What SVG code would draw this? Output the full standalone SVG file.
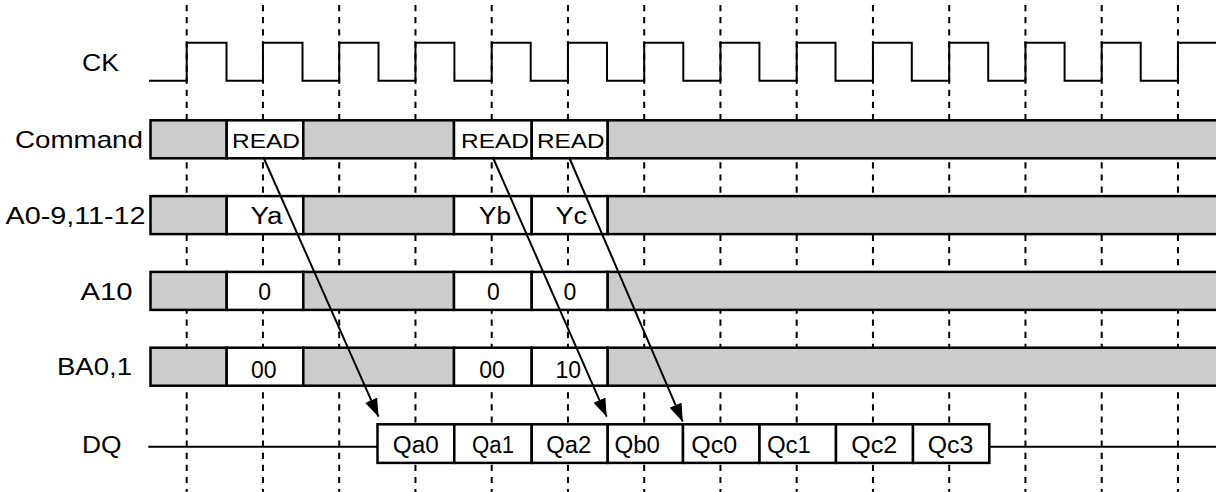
<svg xmlns="http://www.w3.org/2000/svg" width="1216" height="492" viewBox="0 0 1216 492">
<style>
.dash{stroke:#000;stroke-width:2;stroke-dasharray:6.2 5.9;fill:none}
.clk{stroke:#000;stroke-width:2;fill:none}
.ln{stroke:#000;stroke-width:2;fill:none}
.g{fill:#ccc;stroke:#000;stroke-width:2.5}
.w{fill:#fff;stroke:#000;stroke-width:2.5}
text{font-family:"Liberation Sans",Arial,sans-serif;fill:#000}
.lbl{font-size:24px}
.cell{font-size:23px}
.rd{font-size:20px}
.c{text-anchor:middle}
.arr{stroke:#000;stroke-width:2;fill:none;marker-end:url(#ah)}
</style>
<defs>
<marker id="ah" markerUnits="userSpaceOnUse" markerWidth="20" markerHeight="14" refX="18" refY="6.5" orient="auto">
<path d="M0,0 L18,6.5 L0,13 Z" fill="#000"/>
</marker>
</defs>
<rect width="1216" height="492" fill="#fff"/>
<g id="gridlines">
<path class="dash" d="M186.7 5V492M262.95 5V492M339.2 5V492M415.45 5V492M491.7 5V492M567.95 5V492M644.2 5V492M720.45 5V492M796.7 5V492M872.95 5V492M949.2 5V492M1025.45 5V492M1101.7 5V492M1177.95 5V492"/>
</g>
<g id="sig-ck">
<text class="lbl" x="82" y="71" textLength="37" lengthAdjust="spacingAndGlyphs">CK</text>
<path class="clk" d="M149 80.7H186.7V42.7H226.5V80.7H262.95V42.7H302.5V80.7H339.2V42.7H378.5V80.7H415.45V42.7H454.4V80.7H491.7V42.7H530.7V80.7H567.95V42.7H607V80.7H644.2V42.7H683.3V80.7H720.45V42.7H759.4V80.7H796.7V42.7H835.5V80.7H872.95V42.7H911.8V80.7H949.2V42.7H988.2V80.7H1025.45V42.7H1064.6V80.7H1101.7V42.7H1140.7V80.7H1177.95V42.7H1216"/>
</g>
<g id="sig-command">
<text class="lbl" x="15" y="148.3" textLength="128" lengthAdjust="spacingAndGlyphs">Command</text>
<rect class="g" x="150.5" y="120.3" width="76.2" height="38"/>
<rect class="w" x="226.7" y="120.3" width="76.6" height="38"/>
<rect class="g" x="303.3" y="120.3" width="150.7" height="38"/>
<rect class="w" x="454" y="120.3" width="77.7" height="38"/>
<rect class="w" x="531.7" y="120.3" width="76" height="38"/>
<rect class="g" x="607.7" y="120.3" width="630" height="38"/>
<text class="rd" x="232" y="148.3" textLength="68" lengthAdjust="spacingAndGlyphs">READ</text>
<text class="rd" x="461" y="148.3" textLength="68" lengthAdjust="spacingAndGlyphs">READ</text>
<text class="rd" x="537" y="148.3" textLength="67.5" lengthAdjust="spacingAndGlyphs">READ</text>
</g>
<g id="sig-addr">
<text class="lbl" x="5.5" y="224.3" textLength="140" lengthAdjust="spacingAndGlyphs">A0-9,11-12</text>
<rect class="g" x="150.5" y="196.1" width="76.2" height="38"/>
<rect class="w" x="226.7" y="196.1" width="76.6" height="38"/>
<rect class="g" x="303.3" y="196.1" width="150.7" height="38"/>
<rect class="w" x="454" y="196.1" width="77.7" height="38"/>
<rect class="w" x="531.7" y="196.1" width="76" height="38"/>
<rect class="g" x="607.7" y="196.1" width="630" height="38"/>
<text class="cell" x="250.5" y="224.3" textLength="32" lengthAdjust="spacingAndGlyphs">Ya</text>
<text class="cell" x="479" y="224.3" textLength="32" lengthAdjust="spacingAndGlyphs">Yb</text>
<text class="cell" x="555.5" y="224.3" textLength="31.5" lengthAdjust="spacingAndGlyphs">Yc</text>
</g>
<g id="sig-a10">
<text class="lbl" x="80.5" y="300" textLength="52" lengthAdjust="spacingAndGlyphs">A10</text>
<rect class="g" x="150.5" y="271.9" width="76.2" height="38"/>
<rect class="w" x="226.7" y="271.9" width="76.6" height="38"/>
<rect class="g" x="303.3" y="271.9" width="150.7" height="38"/>
<rect class="w" x="454" y="271.9" width="77.7" height="38"/>
<rect class="w" x="531.7" y="271.9" width="76" height="38"/>
<rect class="g" x="607.7" y="271.9" width="630" height="38"/>
<text class="cell c" x="264.7" y="299.5">0</text>
<text class="cell c" x="493.3" y="299.5">0</text>
<text class="cell c" x="569.9" y="299.5">0</text>
</g>
<g id="sig-ba">
<text class="lbl" x="57" y="375" textLength="75" lengthAdjust="spacingAndGlyphs">BA0,1</text>
<rect class="g" x="150.5" y="347.7" width="76.2" height="38"/>
<rect class="w" x="226.7" y="347.7" width="76.6" height="38"/>
<rect class="g" x="303.3" y="347.7" width="150.7" height="38"/>
<rect class="w" x="454" y="347.7" width="77.7" height="38"/>
<rect class="w" x="531.7" y="347.7" width="76" height="38"/>
<rect class="g" x="607.7" y="347.7" width="630" height="38"/>
<text class="cell c" x="263.8" y="378.3">00</text>
<text class="cell c" x="492" y="378.3">00</text>
<text class="cell c" x="568.3" y="378.3">10</text>
</g>
<g id="sig-dq">
<text class="lbl" x="82" y="453.3" textLength="39.5" lengthAdjust="spacingAndGlyphs">DQ</text>
<path class="ln" d="M148.3 446.7H377.5M989.3 446.7H1216"/>
<rect class="w" x="377.5" y="424.3" width="76.8" height="38.6"/>
<rect class="w" x="454.3" y="424.3" width="77.4" height="38.6"/>
<rect class="w" x="531.7" y="424.3" width="76" height="38.6"/>
<rect class="w" x="607.7" y="424.3" width="75.3" height="38.6"/>
<rect class="w" x="683" y="424.3" width="76.5" height="38.6"/>
<rect class="w" x="759.5" y="424.3" width="76.5" height="38.6"/>
<rect class="w" x="836" y="424.3" width="77" height="38.6"/>
<rect class="w" x="913" y="424.3" width="76.3" height="38.6"/>
<text class="cell c" x="415.8" y="452.7" textLength="46" lengthAdjust="spacingAndGlyphs">Qa0</text>
<text class="cell c" x="493" y="452.7" textLength="42" lengthAdjust="spacingAndGlyphs">Qa1</text>
<text class="cell c" x="568.7" y="452.7" textLength="45" lengthAdjust="spacingAndGlyphs">Qa2</text>
<text class="cell c" x="637.2" y="452.7" textLength="45.5" lengthAdjust="spacingAndGlyphs">Qb0</text>
<text class="cell c" x="714.2" y="452.7" textLength="46" lengthAdjust="spacingAndGlyphs">Qc0</text>
<text class="cell c" x="788.9" y="452.7" textLength="44" lengthAdjust="spacingAndGlyphs">Qc1</text>
<text class="cell c" x="874.2" y="452.7" textLength="46" lengthAdjust="spacingAndGlyphs">Qc2</text>
<text class="cell c" x="950.5" y="452.7" textLength="45.5" lengthAdjust="spacingAndGlyphs">Qc3</text>
</g>
<g id="connectors">
<line class="arr" x1="263.3" y1="157" x2="378.5" y2="416.7"/>
<line class="arr" x1="492.7" y1="157" x2="606.7" y2="416.7"/>
<line class="arr" x1="569" y1="157" x2="682.7" y2="421.7"/>
</g>
</svg>
